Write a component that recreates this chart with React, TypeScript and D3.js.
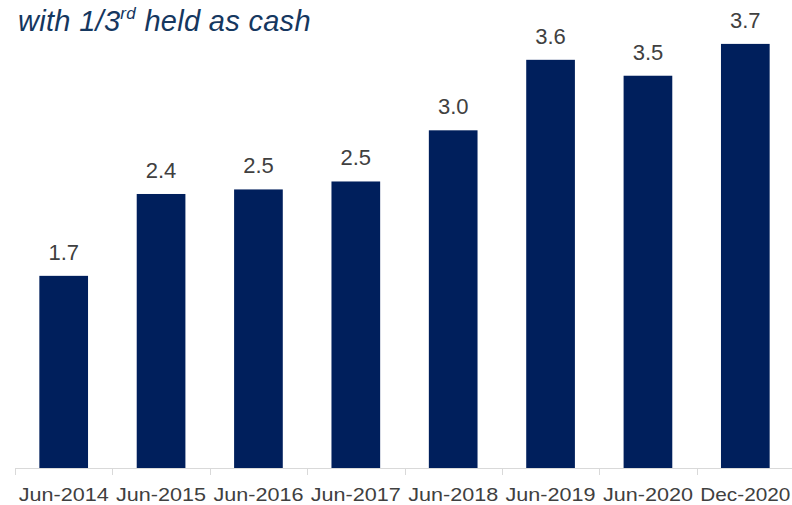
import React from 'react';
import * as d3 from 'd3';

const categories = ['Jun-2014', 'Jun-2015', 'Jun-2016', 'Jun-2017', 'Jun-2018', 'Jun-2019', 'Jun-2020', 'Dec-2020'];
const values = [1.69, 2.41, 2.45, 2.52, 2.97, 3.59, 3.45, 3.73];

const W = 792;
const H = 505;
const margin = { top: 0, right: -2, bottom: 37, left: 15 };

export default function App() {
  const innerW = W - margin.left - margin.right;
  const baseY = H - margin.bottom;

  const x = d3.scaleBand<string>().domain(categories).range([margin.left, margin.left + innerW]).paddingInner(0.5).paddingOuter(0.25);
  const xTicks = d3.scaleBand<string>().domain(categories).range([margin.left, margin.left + innerW]);
  const y = d3.scaleLinear().domain([0, 4]).range([baseY, baseY - 4 * 113.7]);

  const font = 'Liberation Sans, Arial, sans-serif';
  const narrow = 'Liberation Sans Narrow, Arial Narrow, Liberation Sans, sans-serif';

  return (
    <svg width={W} height={H} style={{ position: 'absolute', left: 0, top: 0, background: '#fff' }}>
      <text x={18} y={31} fill="#15375f" fontFamily={font} fontStyle="italic" fontSize={29} letterSpacing={0.3}>
        with 1/3<tspan fontSize={17} dy={-12}>rd</tspan><tspan dy={12}> held as cash</tspan>
      </text>

      {categories.map((c, i) => (
        <g key={c}>
          <rect x={x(c)} y={y(values[i])} width={x.bandwidth()} height={baseY - y(values[i])} fill="#001f5c" />
          <text x={(x(c) ?? 0) + x.bandwidth() / 2} y={y(values[i]) - 16} textAnchor="middle" fill="#404040" fontFamily={font} fontSize={22}>
            {d3.format('.1f')(values[i])}
          </text>
          <text x={(xTicks(c) ?? 0) + xTicks.bandwidth() / 2} y={baseY + 33} textAnchor="middle" fill="#404040" fontFamily={narrow} fontSize={19}
            textLength={90} lengthAdjust="spacingAndGlyphs">
            {c}
          </text>
        </g>
      ))}

      <line x1={margin.left} x2={margin.left + innerW} y1={baseY + 0.5} y2={baseY + 0.5} stroke="#d9d9d9" />
      {[...categories, ''].map((c, i) => {
        const tx = Math.round(margin.left + i * xTicks.step()) + 0.5;
        return <line key={i} x1={tx} x2={tx} y1={baseY} y2={baseY + 7} stroke="#d9d9d9" />;
      })}
    </svg>
  );
}
